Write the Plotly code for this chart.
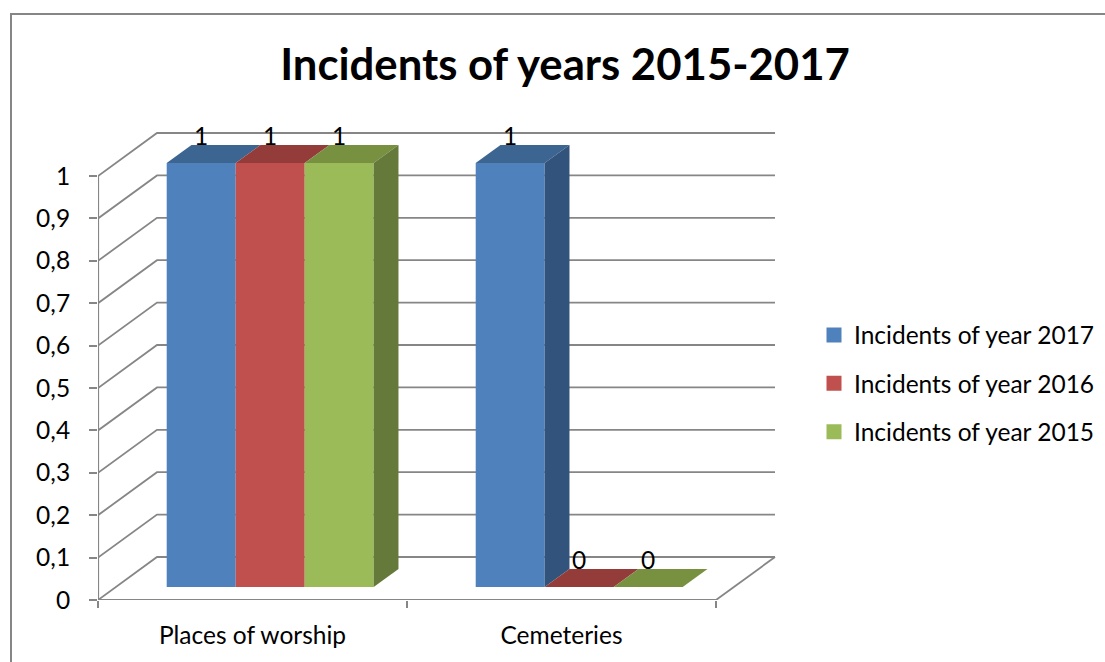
import plotly.graph_objects as go

categories = ["Places of worship", "Cemeteries"]
series_names = ["Incidents of year 2017", "Incidents of year 2016", "Incidents of year 2015"]
incidents_2017 = [1, 1]
incidents_2016 = [1, 0]
incidents_2015 = [1, 0]
y_ticks = [0, 0.1, 0.2, 0.3, 0.4, 0.5, 0.6, 0.7, 0.8, 0.9, 1]
y_tick_labels = ["0", "0,1", "0,2", "0,3", "0,4", "0,5", "0,6", "0,7", "0,8", "0,9", "1"]
front_colors = ["#4F81BD", "#C0504D", "#9BBB59"]
top_colors = ["#3D6591", "#943C3A", "#789141"]
side_colors = ["#32547C", "#7E3432", "#65793A"]
series_values = [incidents_2017, incidents_2016, incidents_2015]

PX_X = 309.0   # pixels per category band
PX_Y = 424.0   # pixels per unit of value
PLOT_L, PLOT_R, PLOT_T, PLOT_B = 98, 800, 120, 600
FONT = "Lato"
LABEL_SIZE = 24.5
GREY = "#868686"
WALL_DX, WALL_DY = 59 / PX_X, 43 / PX_Y
BAR_W = 69 / PX_X
FRONT, BACK = 0.30, 0.72
SHIFT_X, BASE_Y = FRONT * WALL_DX, FRONT * WALL_DY
DEPTH_X, DEPTH_Y = (BACK - FRONT) * WALL_DX, (BACK - FRONT) * WALL_DY


def px_paper_x(px):
    return (px - PLOT_L) / (PLOT_R - PLOT_L)


def px_paper_y(py):
    return (PLOT_B - py) / (PLOT_B - PLOT_T)


fig = go.Figure()

# Walls and floor, on the lower subplot so the bars cover them
wall_x, wall_y = [], []
n_cat = len(categories)
for v in y_ticks:
    wall_x += [0, WALL_DX, n_cat + WALL_DX, None]
    wall_y += [v, v + WALL_DY, v + WALL_DY, None]
wall_x += [n_cat, n_cat + WALL_DX]
wall_y += [0, WALL_DY]
fig.add_trace(go.Scatter(x=wall_x, y=wall_y, mode="lines", cliponaxis=False, showlegend=False,
                         hoverinfo="skip", line=dict(color=GREY, width=1.8)))
# Axis lines stop at the front plane
fig.add_trace(go.Scatter(x=[0, 0, n_cat], y=[max(y_ticks), 0, 0], mode="lines", cliponaxis=False,
                         showlegend=False, hoverinfo="skip", line=dict(color=GREY, width=2.2)))

# Front faces of the bars
for i, (name, vals) in enumerate(zip(series_names, series_values)):
    centers = [c + 0.5 + SHIFT_X + (i - 1) * BAR_W for c in range(n_cat)]
    fig.add_trace(go.Bar(x=centers, y=vals, base=[BASE_Y] * n_cat, width=BAR_W, name=name,
                         marker=dict(color=front_colors[i], line=dict(width=0)),
                         cliponaxis=False, showlegend=False, xaxis="x2", yaxis="y2"))

# Top and side faces
for i, vals in enumerate(series_values):
    for c, v in enumerate(vals):
        left = c + 0.5 + SHIFT_X + (i - 1.5) * BAR_W
        right = left + BAR_W
        top = BASE_Y + v
        fig.add_trace(go.Scatter(
            x=[left, right, right + DEPTH_X, left + DEPTH_X, left],
            y=[top, top, top + DEPTH_Y, top + DEPTH_Y, top],
            mode="lines", fill="toself", fillcolor=top_colors[i], line=dict(width=0),
            cliponaxis=False, showlegend=False, hoverinfo="skip", xaxis="x2", yaxis="y2"))
        next_v = series_values[i + 1][c] if i + 1 < len(series_values) else 0
        if v > next_v:
            fig.add_trace(go.Scatter(
                x=[right, right + DEPTH_X, right + DEPTH_X, right, right],
                y=[top, top + DEPTH_Y, BASE_Y + DEPTH_Y, BASE_Y, top],
                mode="lines", fill="toself", fillcolor=side_colors[i], line=dict(width=0),
                cliponaxis=False, showlegend=False, hoverinfo="skip", xaxis="x2", yaxis="y2"))

# Data labels
for i, vals in enumerate(series_values):
    fig.add_trace(go.Scatter(
        x=[c + 0.5 + SHIFT_X + (i - 1) * BAR_W for c in range(n_cat)],
        y=[BASE_Y + v + 24.5 / PX_Y for v in vals],
        text=[str(v) for v in vals], mode="text", textposition="middle center",
        textfont=dict(family=FONT, size=LABEL_SIZE, color="#000000"),
        cliponaxis=False, showlegend=False, hoverinfo="skip", xaxis="x2", yaxis="y2"))

# Legend keys
for i, name in enumerate(series_names):
    fig.add_trace(go.Scatter(x=[None], y=[None], mode="markers", name=name, legendgroup=name,
                             marker=dict(symbol="square", size=15, color=front_colors[i]),
                             xaxis="x2", yaxis="y2"))

axis_range_x = [0, (PLOT_R - PLOT_L) / PX_X]
axis_range_y = [0, (PLOT_B - PLOT_T) / PX_Y]
fig.update_layout(
    width=1105, height=662, autosize=False,
    margin=dict(l=PLOT_L, r=1105 - PLOT_R, t=PLOT_T, b=662 - PLOT_B, pad=0),
    paper_bgcolor="#FFFFFF", plot_bgcolor="rgba(0,0,0,0)",
    font=dict(family=FONT, size=LABEL_SIZE, color="#000000"),
    barmode="overlay", separators=",.",
    title=dict(text="<b>Incidents of years 2015-2017</b>", font=dict(family=FONT, size=43.7, color="#000000"),
               x=565 / 1105, xref="container", xanchor="center", y=1 - 65 / 662, yref="container", yanchor="middle"),
    xaxis=dict(range=axis_range_x, tickvals=[c + 0.5 for c in range(n_cat)], ticktext=categories,
               ticks="", showgrid=False, zeroline=False, showline=False,
               ticklabelstandoff=18, tickfont=dict(family=FONT, size=LABEL_SIZE),
               minor=dict(tickvals=list(range(n_cat + 1)), ticks="outside", ticklen=7, tickwidth=2,
                          tickcolor=GREY, showgrid=False)),
    yaxis=dict(range=axis_range_y, tickvals=y_ticks, ticktext=y_tick_labels, ticks="outside", ticklen=8,
               tickwidth=2, tickcolor=GREY, showgrid=False, zeroline=False, showline=False,
               ticklabelstandoff=14, tickfont=dict(family=FONT, size=LABEL_SIZE)),
    xaxis2=dict(range=axis_range_x, overlaying="x", visible=False),
    yaxis2=dict(range=axis_range_y, overlaying="y", visible=False),
    legend=dict(xref="container", yref="container", x=814 / 1105, y=1 - 383.5 / 662,
                xanchor="left", yanchor="middle",
                tracegroupgap=13.5, bgcolor="rgba(0,0,0,0)", font=dict(family=FONT, size=LABEL_SIZE)),
    shapes=[dict(type="rect", xref="paper", yref="paper", x0=px_paper_x(11), x1=px_paper_x(1130),
                 y0=px_paper_y(680), y1=px_paper_y(14), line=dict(color=GREY, width=2), layer="below")],
)

fig.write_html("out.html", config={"displayModeBar": False},
               post_script="document.body.style.margin='0';")
